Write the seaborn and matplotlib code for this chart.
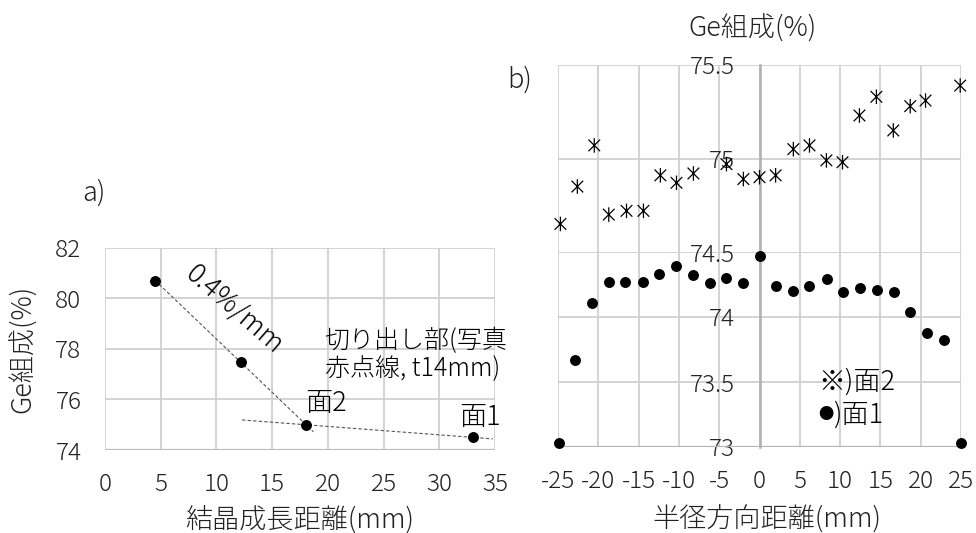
import numpy as np
import matplotlib
matplotlib.use("Agg")
import matplotlib.pyplot as plt
from matplotlib.path import Path
import seaborn as sns

sns.set_theme(style="white")
plt.rcParams["font.family"] = ["Noto Sans CJK JP", "DejaVu Sans"]
plt.rcParams["font.weight"] = "light"
plt.rcParams["axes.labelweight"] = "light"

# ---------------- data: panel a) ----------------
growth_dist = [4.5, 12.2, 18.0, 33.0]          # 結晶成長距離 (mm)
growth_ge = [80.7, 77.5, 75.0, 74.5]           # Ge組成 (%)
trend1_range = [4.5, 18.7]                     # extent of steep trend line
trend2_range = [12.3, 34.8]                    # extent of shallow trend line
a_xticks = [0, 5, 10, 15, 20, 25, 30, 35]
a_yticks = [74, 76, 78, 80, 82]

# ---------------- data: panel b) ----------------
face2_x = [-24.7, -22.6, -20.5, -18.7, -16.5, -14.4, -12.3, -10.3, -8.2,
           -4.1, -2.0, 0.0, 2.0, 4.2, 6.2, 8.3, 10.3, 12.4, 14.5, 16.6,
           18.7, 20.6, 24.9]
face2_ge = [74.65, 74.85, 75.07, 74.70, 74.72, 74.72, 74.91, 74.87, 74.92,
            74.97, 74.89, 74.90, 74.91, 75.05, 75.07, 74.99, 74.98, 75.23,
            75.33, 75.15, 75.28, 75.31, 75.39]
face1_x = [-24.9, -22.9, -20.8, -18.7, -16.7, -14.5, -12.5, -10.4, -8.2,
           -6.2, -4.1, -2.0, 0.0, 2.1, 4.2, 6.2, 8.4, 10.4, 12.5, 14.6,
           16.7, 18.7, 20.8, 22.9, 25.0]
face1_ge = [73.03, 73.67, 74.11, 74.27, 74.27, 74.27, 74.33, 74.39, 74.32,
            74.26, 74.30, 74.26, 74.47, 74.24, 74.20, 74.24, 74.29, 74.19,
            74.22, 74.21, 74.19, 74.04, 73.88, 73.82, 73.03]
b_xticks = [-25, -20, -15, -10, -5, 0, 5, 10, 15, 20, 25]
b_xticklabels = ["-25", "-20", "-15", "-10", "-5", "0", "5", "10", "15", "20", "25"]
b_upper_yticks = [75, 75.5]
b_upper_yticklabels = ["75", "75.5"]
b_lower_yticks = [73, 73.5, 74, 74.5]
b_lower_yticklabels = ["73", "73.5", "74", "74.5"]

FS = 17.5     # tick labels
FL = 19.5     # axis titles / annotations
GRID = "#d0d0d0"
TXT = "#222222"
W, H = 976, 533

fig = plt.figure(figsize=(W / 100, H / 100), dpi=100)


def px_axes(l, t, r, b):
    return fig.add_axes([l / W, 1 - b / H, (r - l) / W, (b - t) / H])


# ---------------- panel a ----------------
axa = px_axes(105, 248, 495, 450)
sns.scatterplot(x=growth_dist, y=growth_ge, ax=axa, color="black", s=62,
                edgecolor="black", linewidth=0, clip_on=False, zorder=5)
k1 = np.polyfit(growth_dist[:3], growth_ge[:3], 1)
k2 = np.polyfit(growth_dist[2:], growth_ge[2:], 1)
xr1 = np.array(trend1_range)
xr2 = np.array(trend2_range)
axa.plot(xr1, np.polyval(k1, xr1), color="#555555", lw=0.8, ls=(0, (3, 2)))
axa.plot(xr2, np.polyval(k2, xr2), color="#555555", lw=0.8, ls=(0, (3, 2)))
axa.set_xlim(0, 35)
axa.set_ylim(74, 82)
axa.set_xticks(a_xticks)
axa.set_yticks(a_yticks)
axa.grid(True, color=GRID, lw=1.3)
for s in axa.spines.values():
    s.set_visible(False)
axa.axhline(74, color="#bdbdbd", lw=1.6, zorder=1)
axa.tick_params(axis="both", length=0, labelsize=FS, colors=TXT)
axa.tick_params(axis="y", pad=17)
axa.tick_params(axis="x", pad=16)
axa.set_xlabel("結晶成長距離(mm)", fontsize=FL, color=TXT, fontweight="light")
axa.xaxis.set_label_coords(0.5, -0.28)
axa.set_ylabel("Ge組成(%)", fontsize=FL, color=TXT, va="center", fontweight="light")
axa.yaxis.set_label_coords(-0.21, 0.5)
axa.text(11.6, 79.6, "0.4%/mm", rotation=-41, ha="center", va="center",
         fontsize=FL, color="black", rotation_mode="anchor")
axa.text(19.7, 77.76, "切り出し部(写真\n赤点線, t14mm)", ha="left", va="center",
         fontsize=18, color="black", linespacing=1.05)
axa.text(19.8, 75.86, "面2", ha="center", va="center", fontsize=FL, color="black")
axa.text(33.7, 75.32, "面1", ha="center", va="center", fontsize=FL, color="black")
fig.text(82 / W, 1 - 193 / H, "a)", ha="left", va="center", fontsize=FL, color=TXT)

# ---------------- panel b ----------------
axu = px_axes(558, 65, 961, 252)
axl = px_axes(558, 252, 961, 447)

star = Path([(0, -1), (0, 1), (-0.8, -0.8), (0.8, 0.8), (-0.8, 0.8), (0.8, -0.8)],
            [Path.MOVETO, Path.LINETO, Path.MOVETO, Path.LINETO, Path.MOVETO, Path.LINETO])
sns.scatterplot(x=face2_x, y=face2_ge, ax=axu, marker=star, s=110, color="black",
                edgecolor="black", facecolor="none", linewidth=0.9, clip_on=False, zorder=5)
sns.scatterplot(x=face1_x, y=face1_ge, ax=axl, color="black", s=62,
                edgecolor="black", linewidth=0, clip_on=False, zorder=5)

for ax, lim, ticks, labels in [(axu, (74.5, 75.5), b_upper_yticks, b_upper_yticklabels),
                               (axl, (73, 74.5), b_lower_yticks, b_lower_yticklabels)]:
    ax.set_xlim(-25, 25)
    ax.set_ylim(*lim)
    ax.set_xticks(b_xticks)
    ax.set_yticks(ticks, labels)
    ax.grid(True, color=GRID, lw=1.3)
    for name in ["top", "right", "bottom"]:
        ax.spines[name].set_visible(False)
    ax.spines["left"].set_position(("data", 0))
    ax.spines["left"].set_color("#b0b0b0")
    ax.spines["left"].set_linewidth(1.8)
    ax.tick_params(axis="y", length=0, pad=18, labelsize=FS, colors=TXT)
    ax.tick_params(axis="x", length=0, labelsize=FS, colors=TXT)

axu.tick_params(axis="x", labelbottom=False)
axl.set_xticks(b_xticks, b_xticklabels)
axl.tick_params(axis="x", pad=16)
axl.axhline(73, color="#b5b5b5", lw=1.6, zorder=1)
axl.set_xlabel("半径方向距離(mm)", fontsize=FL, color=TXT, fontweight="light")
axl.xaxis.set_label_coords(0.519, -0.30)
axl.set_ylabel("")
axu.set_ylabel("")
axl.text(7.3, 73.505, "※)面2", ha="left", va="center", fontsize=FL, color="black")
axl.text(7.3, 73.25, "●", ha="left", va="center", fontsize=11, color="black")
axl.text(9.1, 73.25, ")面1", ha="left", va="center", fontsize=FL, color="black")
fig.text(753 / W, 1 - 29 / H, "Ge組成(%)", ha="center", va="center", fontsize=FL, color=TXT)
fig.text(507 / W, 1 - 80 / H, "b)", ha="left", va="center", fontsize=FL, color=TXT)

fig.savefig("out.png", dpi=100)
